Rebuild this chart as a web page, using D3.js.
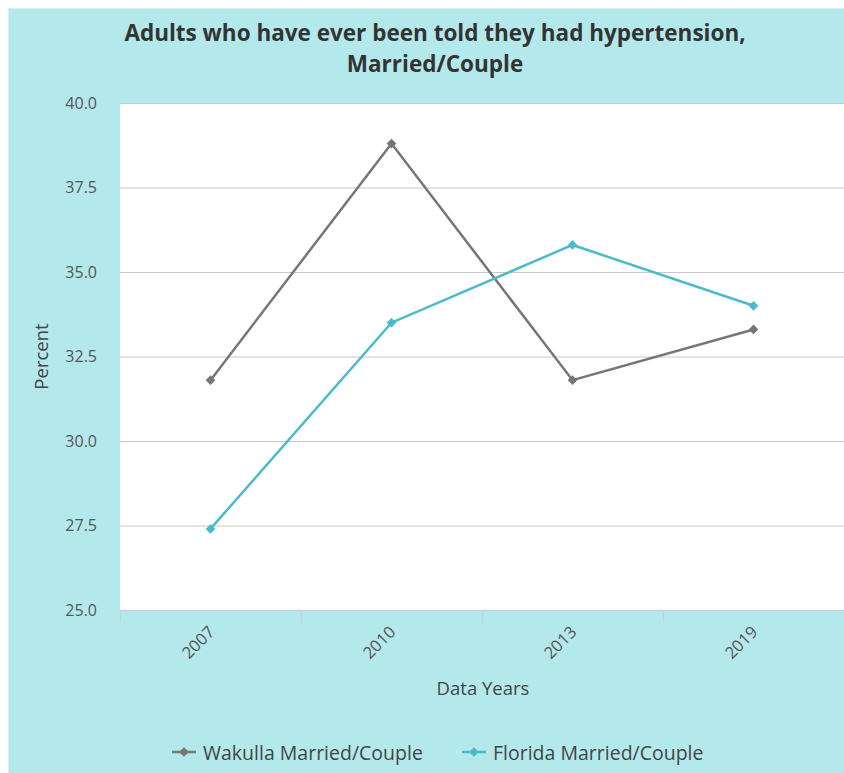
<!DOCTYPE html>
<html>
<head>
<meta charset="utf-8">
<script src="https://cdn.jsdelivr.net/npm/d3@7"></script>
<style>
  html, body { margin: 0; padding: 0; background: #ffffff; }
  svg { display: block; font-family: "Open Sans", "Noto Sans", sans-serif; }
</style>
</head>
<body>
<svg id="chart" width="844" height="773"></svg>
<script>
// Data
const years = ["2007", "2010", "2013", "2019"];
const wakulla = [31.8, 38.8, 31.8, 33.3];
const florida = [27.4, 33.5, 35.8, 34.0];
const yTicks = [25, 27.5, 30, 32.5, 35, 37.5, 40];
const seriesNames = ["Wakulla Married/Couple", "Florida Married/Couple"];
const seriesColors = ["#767676", "#4bbacb"];
const titleLines = ["Adults who have ever been told they had hypertension,", "Married/Couple"];

const svg = d3.select("#chart");
const W = 844, H = 773;

// Panel background
svg.append("rect").attr("x", 8.5).attr("y", 8.5).attr("width", W - 8).attr("height", H - 8)
  .attr("fill", "#b4e9ec").attr("stroke", "#d6eef0").attr("stroke-width", 1);

const plot = { left: 120, top: 103, right: 844, bottom: 610 };

const x = d3.scaleBand().domain(years).range([plot.left, plot.right]);
const y = d3.scaleLinear().domain([25, 40]).range([plot.bottom, plot.top]);

// Plot area
svg.append("rect").attr("x", plot.left).attr("y", plot.top)
  .attr("width", plot.right - plot.left).attr("height", plot.bottom - plot.top)
  .attr("fill", "#ffffff");

// Grid lines
svg.append("g").selectAll("line").data(yTicks.filter(d => d > 25)).join("line")
  .attr("x1", plot.left).attr("x2", plot.right)
  .attr("y1", d => y(d) + 0.5).attr("y2", d => y(d) + 0.5)
  .attr("stroke", "#c8c8c8").attr("stroke-width", 1);

// Y axis labels
const yAxis = d3.axisLeft(y).tickValues(yTicks).tickFormat(d3.format(".1f")).tickSize(0).tickPadding(23);
const gy = svg.append("g").attr("transform", `translate(${plot.left},0)`).call(yAxis);
gy.select(".domain").remove();
gy.selectAll("text").attr("fill", "#555").attr("font-size", 16).attr("font-family", "Open Sans, sans-serif");

// X axis
const bandEdges = years.map(d => x(d)).concat([plot.right]);
const gx = svg.append("g");
gx.append("line").attr("x1", plot.left).attr("x2", plot.right)
  .attr("y1", plot.bottom + 0.5).attr("y2", plot.bottom + 0.5)
  .attr("stroke", "#c5d3dc").attr("stroke-width", 1.5);
gx.selectAll("line.tick").data(bandEdges).join("line").attr("class", "tick")
  .attr("x1", d => d + 0.5).attr("x2", d => d + 0.5)
  .attr("y1", plot.bottom).attr("y2", plot.bottom + 12)
  .attr("stroke", "#c5d3dc").attr("stroke-width", 1);
gx.selectAll("text").data(years).join("text")
  .attr("transform", d => `translate(${x(d) + x.bandwidth() / 2 + 2},${plot.bottom + 20}) rotate(-45)`)
  .attr("text-anchor", "end").attr("dominant-baseline", "middle")
  .attr("fill", "#555").attr("font-size", 16.5)
  .text(d => d);

// Axis titles
svg.append("text").attr("x", (plot.left + plot.right) / 2 + 1).attr("y", 695)
  .attr("text-anchor", "middle").attr("fill", "#444").attr("font-size", 18.5).text("Data Years");
svg.append("text").attr("transform", `translate(48,${(plot.top + plot.bottom) / 2}) rotate(-90)`)
  .attr("text-anchor", "middle").attr("fill", "#444").attr("font-size", 18.5).text("Percent");

// Title
svg.append("g").selectAll("text").data(titleLines).join("text")
  .attr("x", 435).attr("y", (d, i) => 41 + i * 31)
  .attr("text-anchor", "middle").attr("fill", "#333").attr("font-size", 22.5).attr("font-weight", "bold")
  .text(d => d);

// Series
const diamond = d3.symbol().type(d3.symbolDiamond2).size(60);
const seriesData = [wakulla, florida];
const line = d3.line().x((d, i) => x(years[i]) + x.bandwidth() / 2).y(d => y(d));
seriesData.forEach((vals, s) => {
  const g = svg.append("g");
  g.append("path").datum(vals).attr("d", line).attr("fill", "none")
    .attr("stroke", seriesColors[s]).attr("stroke-width", 2.5);
  g.selectAll("path.pt").data(vals).join("path").attr("class", "pt")
    .attr("transform", (d, i) => `translate(${x(years[i]) + x.bandwidth() / 2},${y(d)})`)
    .attr("d", diamond).attr("fill", seriesColors[s]);
});

// Legend
const legendX = [172, 462];
const lg = svg.append("g").selectAll("g").data(seriesNames).join("g")
  .attr("transform", (d, i) => `translate(${legendX[i]},752)`);
lg.append("line").attr("x1", 0).attr("x2", 24).attr("y1", 0).attr("y2", 0)
  .attr("stroke", (d, i) => seriesColors[i]).attr("stroke-width", 2.5);
lg.append("path").attr("transform", "translate(12,0)").attr("d", diamond)
  .attr("fill", (d, i) => seriesColors[i]);
lg.append("text").attr("x", 31).attr("y", 0).attr("dominant-baseline", "central")
  .attr("fill", "#444").attr("font-size", 19.5).text(d => d);
</script>
</body>
</html>
